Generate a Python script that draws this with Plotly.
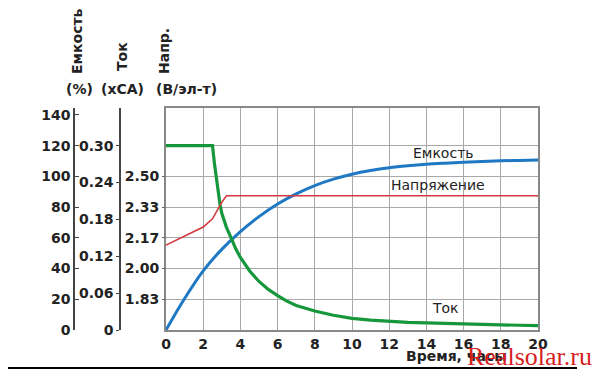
import plotly.graph_objects as go

# ---- data ----
hours_ticks = [0, 2, 4, 6, 8, 10, 12, 14, 16, 18, 20]

cap_t = [0, 1, 2, 3, 4, 5, 6, 7, 8, 9, 10, 11, 12, 13, 14, 15, 16, 17, 18, 19, 20]
cap_v = [0, 20.5, 38.5, 52.5, 64, 73.8, 82, 88.6, 94, 98.2, 101.4, 103.8, 105.6, 106.9,
         107.9, 108.6, 109.2, 109.7, 110.1, 110.4, 110.7]

cur_t = [0, 2.5, 2.6, 2.7, 2.8, 2.9, 3.0, 3.25, 3.5, 3.75, 4, 4.5, 5, 5.5, 6, 6.5, 7,
         7.5, 8, 9, 10, 11, 12, 13, 14, 15, 16, 17, 18, 19, 20]
cur_v = [0.30, 0.30, 0.272, 0.247, 0.225, 0.205, 0.19, 0.167, 0.150, 0.132, 0.118,
         0.096, 0.079, 0.066, 0.056, 0.047, 0.040, 0.035, 0.031, 0.024, 0.019, 0.016,
         0.014, 0.0125, 0.0115, 0.0105, 0.0098, 0.009, 0.0083, 0.0077, 0.007]

volt_t = [0, 2, 2.5, 3.0, 3.25, 20]
volt_v = [2.127, 2.225, 2.27, 2.36, 2.395, 2.395]

cap_ticks = [0, 20, 40, 60, 80, 100, 120, 140]
cur_ticks = [0, 0.06, 0.12, 0.18, 0.24, 0.30]
cur_ticktext = ["0", "0.06", "0.12", "0.18", "0.24", "0.30"]
volt_ticks = [1.8333, 2.0, 2.1667, 2.3333, 2.5]
volt_ticktext = ["1.83", "2.00", "2.17", "2.33", "2.50"]

# ---- geometry (page pixels; the figure sits at an 8px body offset) ----
OFF = 8
W, H = 600 - OFF, 371 - OFF
PL, PR, PT, PB = 30, 538, 108, 330          # page pixels of paper/plot area
ML = PL - OFF
MT = PT - OFF
MR = W - (PR - OFF)
MB = H - (PB - OFF)
PW = PR - PL
PH = PB - PT
def px(x):
    return (x - PL) / PW
def py(y):
    return (PB - y) / PH

CAP_MAX = 144.5
CUR_MAX = CAP_MAX * 0.0025
V0 = 1.66667
V_MAX = V0 + CAP_MAX / 120.0

BOLD = "DejaVu Sans"
tickfont = dict(family=BOLD, size=14, color="#222222", weight="bold")

fig = go.Figure()
fig.add_trace(go.Scatter(x=volt_t, y=volt_v, yaxis="y4", mode="lines",
                         line=dict(color="#d23a40", width=1.6), hoverinfo="skip"))
fig.add_trace(go.Scatter(x=cap_t, y=cap_v, yaxis="y2", mode="lines", line_shape="spline",
                         line=dict(color="#1f78c3", width=3), hoverinfo="skip"))
fig.add_trace(go.Scatter(x=cur_t, y=cur_v, yaxis="y3", mode="lines",
                         line=dict(color="#17973c", width=3.2), hoverinfo="skip"))

x0 = px(166)
fig.update_layout(
    width=W, height=H,
    margin=dict(l=ML, r=MR, t=MT, b=MB, pad=0),
    paper_bgcolor="white", plot_bgcolor="white",
    showlegend=False,
    xaxis=dict(domain=[x0, 1], range=[0, 20], tickvals=hours_ticks,
               showgrid=True, gridcolor="#a8a8a8", gridwidth=1,
               showline=True, linecolor="#888888", linewidth=2, mirror=True,
               ticks="", tickfont=tickfont, zeroline=False),
    yaxis=dict(range=[0, CAP_MAX], tickvals=[20, 40, 60, 80, 100, 120],
               showticklabels=False, showgrid=True, gridcolor="#a8a8a8", gridwidth=1,
               showline=True, linecolor="#888888", linewidth=2, mirror=True,
               ticks="", zeroline=False),
    yaxis2=dict(overlaying="y", anchor="free", position=px(74), side="left",
                range=[0, CAP_MAX], tickvals=cap_ticks, showgrid=False, zeroline=False,
                showline=True, linecolor="#444444", linewidth=1.5,
                ticks="inside", ticklen=4, tickcolor="#444444", tickfont=tickfont),
    yaxis3=dict(overlaying="y", anchor="free", position=px(120), side="left",
                range=[0, CUR_MAX], tickvals=cur_ticks, ticktext=cur_ticktext,
                showgrid=False, zeroline=False,
                showline=True, linecolor="#444444", linewidth=1.5,
                ticks="outside", ticklen=3, tickcolor="#444444", tickfont=tickfont),
    yaxis4=dict(overlaying="y", anchor="x", side="left",
                range=[V0, V_MAX], tickvals=volt_ticks, ticktext=volt_ticktext,
                showgrid=False, zeroline=False, showline=False,
                ticks="outside", ticklen=3, tickcolor="#666666", tickfont=tickfont),
)

ann = []
def title_rot(text, x, y):
    ann.append(dict(text=text, x=px(x), y=py(y), xref="paper", yref="paper",
                    showarrow=False, textangle=-90, xanchor="center", yanchor="middle",
                    font=dict(family=BOLD, size=14, color="#222222", weight="bold")))
def title_h(text, x, y):
    ann.append(dict(text=text, x=px(x), y=py(y), xref="paper", yref="paper",
                    showarrow=False, xanchor="center", yanchor="middle",
                    font=dict(family=BOLD, size=14, color="#222222", weight="bold")))
title_rot("Емкость", 77, 41)
title_rot("Ток", 122, 57)
title_rot("Напр.", 164, 51)
title_h("(%)", 79, 89)
title_h("(xCA)", 122, 89)
title_h("(В/эл-т)", 186, 89)
title_h("Время, часы", 456, 356)

for text, t, c in [("Емкость", 14.9, 115.4), ("Напряжение", 14.6, 94.4), ("Ток", 15.0, 14.3)]:
    ann.append(dict(text=text, x=t, y=c, xref="x", yref="y", showarrow=False,
                    xanchor="center", yanchor="middle",
                    font=dict(family="DejaVu Sans", size=14, color="#222222")))

ann.append(dict(text="Realsolar.ru", x=px(529), y=py(356), xref="paper", yref="paper",
                showarrow=False, xanchor="center", yanchor="middle",
                font=dict(family="Liberation Serif", size=26, color="#d81e1e")))
fig.update_layout(annotations=ann)

fig.add_shape(type="line", xref="paper", yref="paper",
              x0=px(0), x1=px(577), y0=py(368), y1=py(368),
              line=dict(color="#000000", width=2))

fig.write_html("out.html")
